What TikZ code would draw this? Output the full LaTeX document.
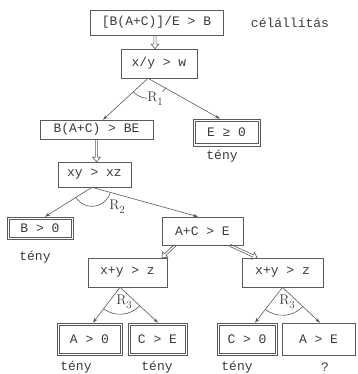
\documentclass[tikz,border=0pt]{standalone}
\usepackage{fontspec}
\setmonofont{Liberation Mono}
\usetikzlibrary{arrows.meta,angles,calc}
\definecolor{ink}{HTML}{3A3A3A}
\definecolor{lin}{HTML}{5A5A5A}
\newcommand{\dbarr}[2]{%
  \coordinate (dbP) at ($(#2)!4.5pt!(#1)$);
  \draw[lin, line width=0.6pt, line join=miter]
    ($(#1)!1.1pt!90:(#2)$) -- ($(dbP)!1.1pt!90:(#2)$) -- ($(dbP)!3.8pt!90:(#2)$) --
    (#2) -- ($(dbP)!3.8pt!-90:(#2)$) -- ($(dbP)!1.1pt!-90:(#2)$) -- ($(#1)!1.1pt!-90:(#2)$);
}
\begin{document}
\begin{tikzpicture}[x=1pt,y=-1pt,
  font=\ttfamily\fontsize{13}{15}\selectfont, text=ink,
  box/.style={draw=lin, line width=0.6pt, inner sep=0pt, align=center},
  fact/.style={box, path picture={\draw[lin, line width=0.6pt]
      ([shift={(2.2pt,2.2pt)}]path picture bounding box.south west) rectangle
      ([shift={(-2.2pt,-2.2pt)}]path picture bounding box.north east);}},
  con/.style={draw=lin, line width=0.6pt, -{Stealth[length=5pt,width=3.5pt]}},
  rarc/.style={draw=lin, line width=0.6pt},
  lbl/.style={inner sep=1pt},
  rlbl/.style={inner sep=0.5pt, font=\rmfamily\fontsize{14}{16}\selectfont}]
\useasboundingbox (0,0) rectangle (357,374);

% nodes
\node[box, minimum width=133pt, minimum height=25pt] (top) at (156.5,22.5) {[B(A+C)]/E > B};
\node[lbl] (goal) at (290,23) {célállítás};
\node[box, minimum width=76pt, minimum height=29pt] (xyw) at (159,63.5) {x/y > w};
\node[box, minimum width=113pt, minimum height=19pt] (bac) at (96.5,129.5) {B(A+C) > BE};
\node[fact, minimum width=67pt, minimum height=27pt] (e0) at (226.5,132.5) {E ≥ 0};
\node[lbl] (t1) at (222,156) {tény};
\node[box, minimum width=73pt, minimum height=25pt] (xyxz) at (94.5,174.5) {xy > xz};
\node[fact, minimum width=66pt, minimum height=22pt] (b0) at (40,228) {B > 0};
\node[lbl] (t2) at (35,257) {tény};
\node[box, minimum width=81pt, minimum height=28pt] (ace) at (202.5,231) {A+C > E};
\node[box, minimum width=79pt, minimum height=29pt] (xyz1) at (127.5,272.5) {x+y > z};
\node[box, minimum width=81pt, minimum height=29pt] (xyz2) at (282.5,272.5) {x+y > z};
\node[fact, minimum width=65pt, minimum height=32pt] (a0) at (89.5,339) {A > 0};
\node[fact, minimum width=59pt, minimum height=32pt] (ce) at (157.5,339) {C > E};
\node[fact, minimum width=60pt, minimum height=32pt] (c0) at (247,339) {C > 0};
\node[box, minimum width=73pt, minimum height=32pt] (ae) at (318.5,339) {A > E};
\node[lbl] (t3) at (76,367) {tény};
\node[lbl] (t4) at (157,367) {tény};
\node[lbl] (t5) at (237,367) {tény};
\node[lbl] (q) at (325,367) {?};

% reduction (double) arrows
\coordinate (d1a) at ([xshift=-1.5pt]top.south);
\coordinate (d1b) at ([xshift=-4pt]xyw.north);
\dbarr{d1a}{d1b}
\coordinate (d2a) at (bac.south);
\coordinate (d2b) at (bac.south |- xyxz.north);
\dbarr{d2a}{d2b}
\coordinate (d3a) at ([xshift=-27.5pt]ace.south);
\coordinate (d3b) at ([xshift=34.5pt]xyz1.north);
\dbarr{d3a}{d3b}
\coordinate (d4a) at ([xshift=27.5pt]ace.south);
\coordinate (d4b) at ([xshift=-25.5pt]xyz2.north);
\dbarr{d4a}{d4b}

% rule branches
\coordinate (ap1) at ([xshift=-11pt]xyw.south);
\coordinate (l1) at ([xshift=6.5pt]bac.north);
\coordinate (r1) at ([xshift=-6.5pt]e0.north);
\draw[con] (ap1) -- (l1);
\draw[con] (ap1) -- (r1);
\pic[rarc, angle radius=20pt] {angle = l1--ap1--r1};
\node[rlbl, fill=white] (R1) at (155,99) {R\raisebox{-4pt}{\fontsize{11}{13}\selectfont 1}};

\coordinate (ap2) at ([xshift=-2.5pt]xyxz.south);
\coordinate (l2) at ([xshift=5pt]b0.north);
\coordinate (r2) at ([xshift=-4.5pt]ace.north);
\draw[con] (ap2) -- (l2);
\draw[con] (ap2) -- (r2);
\pic[rarc, angle radius=19pt] {angle = l2--ap2--r2};
\node[rlbl] (R2) at (117,207) {R\raisebox{-4pt}{\fontsize{11}{13}\selectfont 2}};

\coordinate (ap3) at ([xshift=-7.5pt]xyz1.south);
\coordinate (l3) at ([xshift=3.5pt]a0.north);
\coordinate (r3) at ([xshift=0.5pt]ce.north);
\draw[con] (ap3) -- (l3);
\draw[con] (ap3) -- (r3);
\pic[rarc, angle radius=27pt] {angle = l3--ap3--r3};
\node[rlbl] (R3a) at (124,302) {R\raisebox{-4pt}{\fontsize{11}{13}\selectfont 3}};

\coordinate (ap4) at (xyz2.south);
\coordinate (l4) at ([xshift=8pt]c0.north);
\coordinate (r4) at ([xshift=1.5pt]ae.north);
\draw[con] (ap4) -- (l4);
\draw[con] (ap4) -- (r4);
\pic[rarc, angle radius=28pt] {angle = l4--ap4--r4};
\node[rlbl] (R3b) at (287,302) {R\raisebox{-4pt}{\fontsize{11}{13}\selectfont 3}};
\end{tikzpicture}
\end{document}
